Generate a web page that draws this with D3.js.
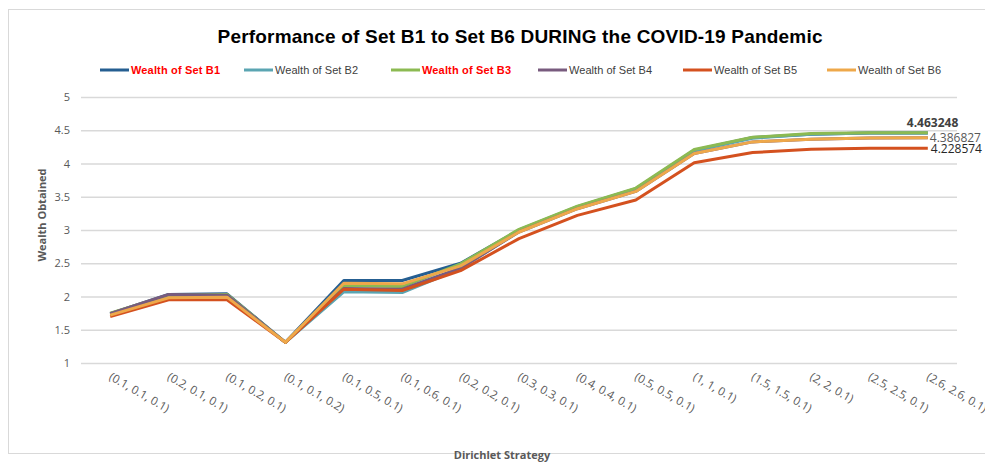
<!DOCTYPE html>
<html>
<head>
<meta charset="utf-8">
<script src="https://cdn.jsdelivr.net/npm/d3@7"></script>
<style>
  body { margin: 0; background: #fff; }
  svg { display: block; }
</style>
</head>
<body>
<div id="chart"></div>
<script>
const width = 985;
const height = 469;
const margin = { top: 97, right: 28, bottom: 106, left: 81 };

const categories = [
  "(0.1, 0.1, 0.1)", "(0.2, 0.1, 0.1)", "(0.1, 0.2, 0.1)", "(0.1, 0.1, 0.2)",
  "(0.1, 0.5, 0.1)", "(0.1, 0.6, 0.1)", "(0.2, 0.2, 0.1)", "(0.3, 0.3, 0.1)",
  "(0.4, 0.4, 0.1)", "(0.5, 0.5, 0.1)", "(1, 1, 0.1)", "(1.5, 1.5, 0.1)",
  "(2, 2, 0.1)", "(2.5, 2.5, 0.1)", "(2.6, 2.6, 0.1)"
];

const setB1 = [1.74, 2.03, 2.04, 1.31, 2.24, 2.24, 2.50, 3.00, 3.35, 3.62, 4.20, 4.39, 4.44, 4.46, 4.46];
const setB2 = [1.73, 2.01, 2.02, 1.31, 2.07, 2.06, 2.42, 2.98, 3.34, 3.61, 4.19, 4.38, 4.44, 4.46, 4.46];
const setB3 = [1.75, 2.02, 2.03, 1.31, 2.16, 2.15, 2.49, 3.01, 3.36, 3.63, 4.21, 4.395, 4.45, 4.462, 4.463248];
const setB4 = [1.74, 2.03, 2.02, 1.31, 2.12, 2.11, 2.43, 2.97, 3.32, 3.58, 4.15, 4.325, 4.365, 4.382, 4.386];
const setB5 = [1.70, 1.95, 1.95, 1.31, 2.11, 2.09, 2.39, 2.87, 3.22, 3.45, 4.01, 4.165, 4.215, 4.228, 4.228574];
const setB6 = [1.72, 1.98, 1.99, 1.31, 2.20, 2.19, 2.46, 2.97, 3.32, 3.58, 4.15, 4.325, 4.365, 4.382, 4.386827];

const seriesNames = ["Wealth of Set B1", "Wealth of Set B2", "Wealth of Set B3",
                     "Wealth of Set B4", "Wealth of Set B5", "Wealth of Set B6"];
const seriesValues = [setB1, setB2, setB3, setB4, setB5, setB6];
const seriesColors = ["#255e91", "#5ba5b2", "#8cba52", "#785b7e", "#d4511f", "#eea84a"];
const boldLegend = ["Wealth of Set B1", "Wealth of Set B3"];

const yTicks = [1, 1.5, 2, 2.5, 3, 3.5, 4, 4.5, 5];

const svg = d3.select("#chart")
  .append("svg")
  .attr("width", width)
  .attr("height", height)
  .attr("viewBox", [0, 0, width, height]);

// chart frame
svg.append("rect")
  .attr("x", 8.5)
  .attr("y", 9.5)
  .attr("width", width)
  .attr("height", 444)
  .attr("fill", "none")
  .attr("stroke", "#d9d9d9");

const x = d3.scaleBand()
  .domain(categories)
  .range([margin.left, width - margin.right]);

const y = d3.scaleLinear()
  .domain([1, 5])
  .range([height - margin.bottom, margin.top]);

// gridlines + y labels
const yAxis = (g) =>
  g.attr("transform", `translate(${margin.left},0)`)
    .call(d3.axisLeft(y).tickValues(yTicks).tickFormat((d) => d)
      .tickSize(-(width - margin.left - margin.right)).tickPadding(11))
    .call((g) => g.select(".domain").remove())
    .call((g) => g.selectAll(".tick line").attr("stroke", "#d9d9d9").attr("stroke-width", 1.3))
    .call((g) => g.selectAll(".tick text")
      .attr("fill", "#595959")
      .attr("font-size", "11px")
      .attr("font-family", "'Open Sans', sans-serif"));
svg.append("g").call(yAxis);

// x labels, rotated
const xAxis = (g) =>
  g.attr("transform", `translate(0,${height - margin.bottom})`)
    .call(d3.axisBottom(x).tickSize(0).tickPadding(0))
    .call((g) => g.select(".domain").remove())
    .call((g) => g.selectAll(".tick text")
      .attr("fill", "#595959")
      .attr("font-size", "11.5px")
      .attr("font-family", "'Open Sans', sans-serif")
      .attr("text-anchor", "start")
      .attr("dy", 0)
      .attr("transform", "translate(-2,16) rotate(30)"));
svg.append("g").call(xAxis);

// lines
const line = d3.line()
  .x((d, i) => x(categories[i]) + x.bandwidth() / 2)
  .y((d) => y(d));

svg.append("g")
  .selectAll("path")
  .data(seriesValues)
  .join("path")
  .attr("d", (d) => line(d))
  .attr("fill", "none")
  .attr("stroke", (d, i) => seriesColors[i])
  .attr("stroke-width", 3)
  .attr("stroke-linejoin", "round");

// end labels
const lastX = x(categories[categories.length - 1]) + x.bandwidth() / 2;
const last = (arr) => arr[arr.length - 1];

svg.append("text")
  .attr("x", lastX - 21)
  .attr("y", y(last(setB3)) - 6)
  .attr("font-family", "'Open Sans', sans-serif")
  .attr("font-size", "12px")
  .attr("font-weight", "bold")
  .attr("fill", "#404040")
  .text(last(setB3).toFixed(6));

svg.append("text")
  .attr("x", lastX + 2)
  .attr("y", y(last(setB6)) + 4)
  .attr("font-family", "'Open Sans', sans-serif")
  .attr("font-size", "12px")
  .attr("fill", "#595959")
  .text(last(setB6).toFixed(6));

svg.append("text")
  .attr("x", lastX + 3)
  .attr("y", y(last(setB5)) + 5)
  .attr("font-family", "'Open Sans', sans-serif")
  .attr("font-size", "12px")
  .attr("fill", "#262626")
  .text(last(setB5).toFixed(6));

// legend
const legendX = [100, 244, 391, 538, 683, 827];
const legend = svg.selectAll(".legend")
  .data(seriesNames)
  .join("g")
  .attr("class", "legend")
  .attr("transform", (d, i) => `translate(${legendX[i]},70)`);

legend.append("line")
  .attr("x1", 0)
  .attr("x2", 29)
  .attr("stroke", (d, i) => seriesColors[i])
  .attr("stroke-width", 3);

legend.append("text")
  .attr("x", 31)
  .attr("y", 4)
  .attr("font-family", "'Liberation Sans', sans-serif")
  .attr("font-size", "11px")
  .attr("font-weight", (d) => boldLegend.includes(d) ? "bold" : "normal")
  .attr("fill", (d) => boldLegend.includes(d) ? "#ff0000" : "#404040")
  .attr("textLength", (d) => boldLegend.includes(d) ? 89 : 83)
  .text((d) => d);

// title
svg.append("text")
  .attr("x", 520)
  .attr("y", 43)
  .attr("text-anchor", "middle")
  .attr("font-family", "'Liberation Sans', sans-serif")
  .attr("font-size", "19px")
  .attr("font-weight", "bold")
  .attr("fill", "#000")
  .attr("textLength", 605)
  .text("Performance of Set B1 to Set B6 DURING the COVID-19 Pandemic");

// axis titles
svg.append("text")
  .attr("transform", `translate(46,215) rotate(-90)`)
  .attr("text-anchor", "middle")
  .attr("font-family", "'Open Sans', sans-serif")
  .attr("font-size", "11px")
  .attr("font-weight", "bold")
  .attr("fill", "#595959")
  .text("Wealth Obtained");

svg.append("text")
  .attr("x", 502)
  .attr("y", 459)
  .attr("text-anchor", "middle")
  .attr("font-family", "'Open Sans', sans-serif")
  .attr("font-size", "11px")
  .attr("font-weight", "bold")
  .attr("fill", "#595959")
  .text("Dirichlet Strategy");
</script>
</body>
</html>
